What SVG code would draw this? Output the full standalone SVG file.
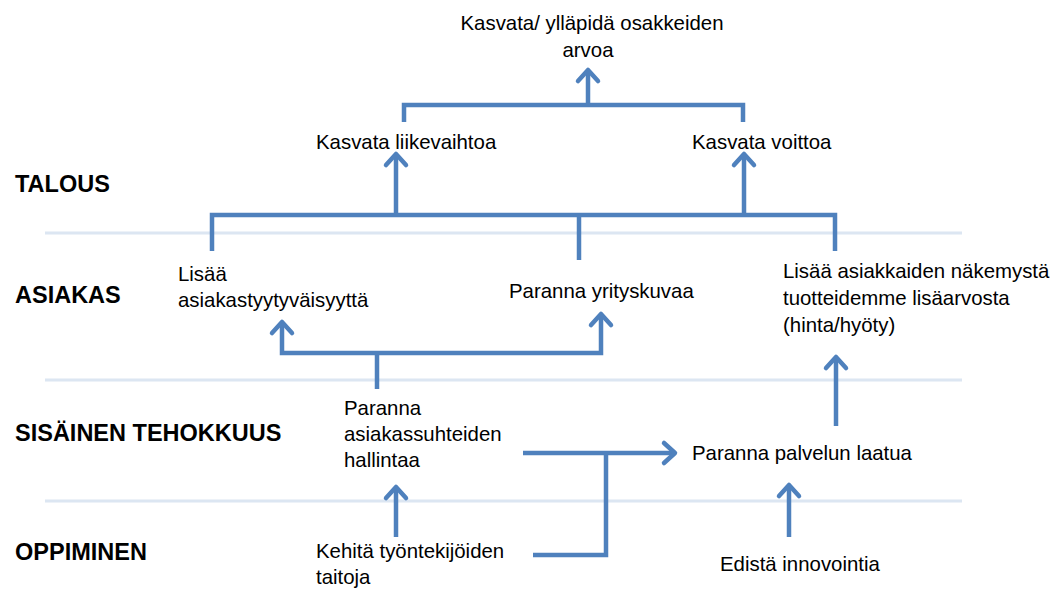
<svg xmlns="http://www.w3.org/2000/svg" width="1059" height="590" viewBox="0 0 1059 590">
  <style>
    .sep { stroke: #dce6f2; stroke-width: 3; fill: none; }
    .conn { stroke: #4f81bd; stroke-width: 4.5; fill: none; stroke-linejoin: miter; }
    .lane { font-family: "Liberation Sans", Arial, sans-serif; font-size: 23.5px; font-weight: bold; fill: #000; }
    .node { font-family: "Liberation Sans", Arial, sans-serif; font-size: 20.4px; fill: #000; }
  </style>
  <defs>
    <marker id="head" markerUnits="userSpaceOnUse" markerWidth="30" markerHeight="30" viewBox="-15 -15 30 30" refX="0" refY="0" orient="auto">
      <path d="M-11,-10 L0,0 L-11,10" fill="none" stroke="#4f81bd" stroke-width="4.5" stroke-linecap="round" stroke-linejoin="round"/>
    </marker>
  </defs>

  <rect width="1059" height="590" fill="#ffffff"/>

  <!-- lane separators -->
  <g id="separators">
    <line class="sep" x1="45" y1="233" x2="962" y2="233"/>
    <line class="sep" x1="45" y1="380" x2="962" y2="380"/>
    <line class="sep" x1="45" y1="501" x2="962" y2="501"/>
  </g>

  <!-- lane titles -->
  <g id="lane-talous"><text class="lane" x="15" y="192">TALOUS</text></g>
  <g id="lane-asiakas"><text class="lane" x="15" y="303">ASIAKAS</text></g>
  <g id="lane-sisainen"><text class="lane" x="15" y="441">SISÄINEN TEHOKKUUS</text></g>
  <g id="lane-oppiminen"><text class="lane" x="15" y="560">OPPIMINEN</text></g>

  <!-- connectors -->
  <g id="connectors">
    <polyline class="conn" points="404,122 404,105 743,105 743,122"/>
    <line class="conn" x1="588" y1="105" x2="588" y2="70" marker-end="url(#head)"/>

    <line class="conn" x1="396" y1="215" x2="396" y2="154" marker-end="url(#head)"/>
    <line class="conn" x1="744" y1="215" x2="744" y2="154" marker-end="url(#head)"/>
    <polyline class="conn" points="212,251 212,215 835,215 835,251"/>
    <line class="conn" x1="579" y1="215" x2="579" y2="260"/>

    <line class="conn" x1="377" y1="389" x2="377" y2="353"/>
    <polyline class="conn" points="377,353 282,353 282,322" marker-end="url(#head)"/>
    <polyline class="conn" points="377,353 601,353 601,314" marker-end="url(#head)"/>

    <line class="conn" x1="836" y1="426" x2="836" y2="357" marker-end="url(#head)"/>

    <line class="conn" x1="523" y1="453" x2="675" y2="453" marker-end="url(#head)"/>
    <polyline class="conn" points="533,555 606,555 606,453"/>

    <line class="conn" x1="396" y1="537" x2="396" y2="487" marker-end="url(#head)"/>
    <line class="conn" x1="789" y1="537" x2="789" y2="485" marker-end="url(#head)"/>
  </g>

  <!-- goals -->
  <g id="n-osakearvo">
    <text class="node" x="592" y="30" text-anchor="middle">Kasvata/ ylläpidä osakkeiden</text>
    <text class="node" x="588" y="57" text-anchor="middle">arvoa</text>
  </g>
  <g id="n-liikevaihto"><text class="node" x="316" y="149">Kasvata liikevaihtoa</text></g>
  <g id="n-voitto"><text class="node" x="692" y="149">Kasvata voittoa</text></g>

  <g id="n-tyytyvaisyys">
    <text class="node" x="178" y="281">Lisää</text>
    <text class="node" x="178" y="307">asiakastyytyväisyyttä</text>
  </g>
  <g id="n-yrityskuva"><text class="node" x="509" y="298">Paranna yrityskuvaa</text></g>
  <g id="n-lisaarvo">
    <text class="node" x="783" y="278">Lisää asiakkaiden näkemystä</text>
    <text class="node" x="783" y="305">tuotteidemme lisäarvosta</text>
    <text class="node" x="783" y="332">(hinta/hyöty)</text>
  </g>

  <g id="n-asiakassuhteet">
    <text class="node" x="344" y="415">Paranna</text>
    <text class="node" x="344" y="441">asiakassuhteiden</text>
    <text class="node" x="344" y="467">hallintaa</text>
  </g>
  <g id="n-palvelu"><text class="node" x="692" y="460">Paranna palvelun laatua</text></g>

  <g id="n-taidot">
    <text class="node" x="316" y="558">Kehitä työntekijöiden</text>
    <text class="node" x="316" y="584">taitoja</text>
  </g>
  <g id="n-innovointi"><text class="node" x="720" y="571">Edistä innovointia</text></g>
</svg>
